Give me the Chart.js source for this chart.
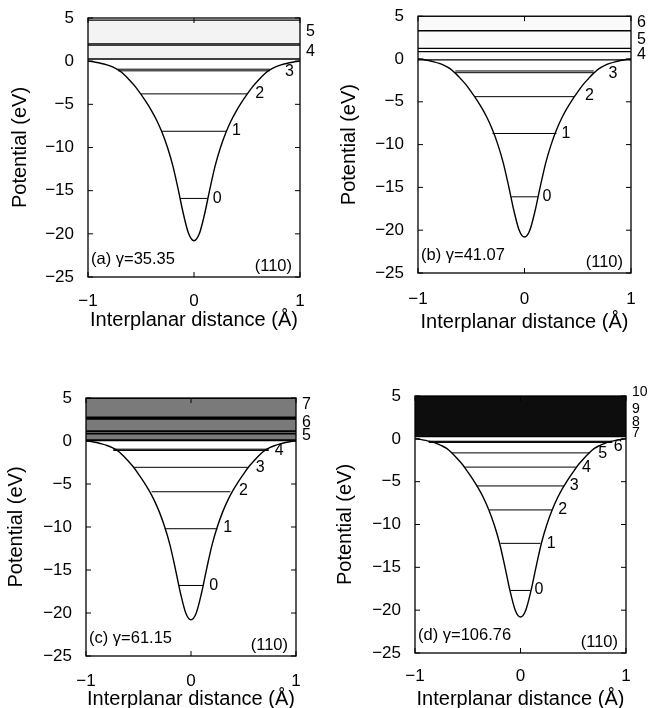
<!DOCTYPE html>
<html>
<head>
<meta charset="utf-8">
<script src="https://cdn.jsdelivr.net/npm/chart.js@4.4.1/dist/chart.umd.min.js"></script>
<style>
body { margin: 0; background: #fff; }
#wrap { position: relative; width: 658px; height: 708px; }
canvas { position: absolute; }
</style>
</head>
<body>
<div id="wrap">
  <canvas id="cA" width="329" height="354" style="left:0;top:0"></canvas>
  <canvas id="cB" width="329" height="354" style="left:329px;top:0"></canvas>
  <canvas id="cC" width="329" height="354" style="left:0;top:354px"></canvas>
  <canvas id="cD" width="329" height="354" style="left:329px;top:354px"></canvas>
</div>
<script>
// planar potential (same in all four panels)
const curveX = [-1, -0.95, -0.9, -0.85, -0.8, -0.75, -0.7, -0.65, -0.6, -0.55, -0.5,
  -0.45, -0.4, -0.35, -0.3, -0.25, -0.2, -0.15, -0.1, -0.05, 0,
  0.05, 0.1, 0.15, 0.2, 0.25, 0.3, 0.35, 0.4, 0.45, 0.5,
  0.55, 0.6, 0.65, 0.7, 0.75, 0.8, 0.85, 0.9, 0.95, 1];
const curveY = [0, -0.06, -0.18, -0.33, -0.52, -0.78, -1.12, -1.65, -2.3, -3.0, -3.85,
  -4.75, -5.75, -6.9, -8.3, -10.0, -12.1, -14.8, -17.7, -20.0, -20.8,
  -20.0, -17.7, -14.8, -12.1, -10.0, -8.3, -6.9, -5.75, -4.75, -3.85,
  -3.0, -2.3, -1.65, -1.12, -0.78, -0.52, -0.33, -0.18, -0.06, 0];

const xTicks = [-1, 0, 1];
const yTicks = [-25, -20, -15, -10, -5, 0, 5];

// (a) gamma = 35.35 : level / band edges (eV) and half widths (Å)
const levelLoA = [-15.9, -8.12, -3.79, -1.12, 0.25, 2.0];
const levelHiA = [-15.9, -8.12, -3.79, -0.93, 1.85, 4.75];
const halfWidthA = [0.13, 0.305, 0.5, 0.715, 1, 1];
const labelTextA = ['0', '1', '2', '3', '4', '5'];
const labelXA = [0.22, 0.40, 0.62, 0.9, null, null];
const labelYA = [-15.9, -8.05, -3.7, -1.2, 1.1, 3.4];

// (b) gamma = 41.07
const levelLoB = [-16.1, -8.7, -4.4, -1.6, -0.1, 1.25, 3.3];
const levelHiB = [-16.1, -8.7, -4.4, -1.4, 0.85, 3.3, 5];
const halfWidthB = [0.125, 0.3, 0.465, 0.65, 1, 1, 1];
const labelTextB = ['0', '1', '2', '3', '4', '5', '6'];
const labelXB = [0.21, 0.39, 0.61, 0.83, null, null, null];
const labelYB = [-16.1, -8.7, -4.3, -1.7, 0.5, 2.25, 4.3];

// (c) gamma = 61.15
const levelLoC = [-16.8, -10.2, -5.9, -3.06, -1.1, 0.1, 1.12, 2.72];
const levelHiC = [-16.8, -10.2, -5.9, -3.06, -0.95, 0.88, 2.6, 5];
const halfWidthC = [0.115, 0.25, 0.375, 0.54, 0.74, 1, 1, 1];
const labelTextC = ['0', '1', '2', '3', '4', '5', '6', '7'];
const labelXC = [0.217, 0.35, 0.5, 0.66, 0.84, null, null, null];
const labelYC = [-16.8, -10.1, -5.8, -3.1, -1.1, 0.6, 2.1, 4.2];

// (d) gamma = 106.76
const levelLoD = [-17.7, -12.2, -8.3, -5.5, -3.3, -1.64, -0.42, 0.25];
const levelHiD = [-17.7, -12.2, -8.3, -5.5, -3.3, -1.64, -0.28, 5];
const halfWidthD = [0.095, 0.19, 0.3, 0.415, 0.525, 0.655, 0.87, 1];
const labelTextD = ['0', '1', '2', '3', '4', '5', '6', '7', '8', '9', '10'];
const labelXD = [0.175, 0.29, 0.4, 0.51, 0.625, 0.78, 0.925, null, null, null, null];
const labelYD = [-17.6, -12.2, -8.3, -5.5, -3.4, -1.7, -0.85, 0.65, 2.0, 3.5, 5.5];

const FONT = '"Liberation Sans", Arial, Helvetica, sans-serif';
Chart.defaults.font.family = FONT;
Chart.defaults.color = '#000';

function fmt(v) {
    return v < 0 ? '\u2212' + Math.abs(v) : String(v);
}

function makePanel(canvasId, p) {
    const datasets = [];
    datasets.push({
        data: curveX.map((x, i) => ({ x: x, y: curveY[i] })),
        borderColor: '#000',
        borderWidth: 1.4,
        cubicInterpolationMode: 'monotone',
        fill: false
    });
    p.lo.forEach((lo, i) => {
        const hi = p.hi[i];
        const w = p.half[i];
        const lw = w >= 1 ? p.edgeWidth : 1;
        datasets.push({
            data: [{ x: -w, y: lo }, { x: w, y: lo }],
            borderColor: '#000', borderWidth: lw, fill: false
        });
        if (hi !== lo) {
            datasets.push({
                data: [{ x: -w, y: hi }, { x: w, y: hi }],
                borderColor: '#000', borderWidth: lw,
                fill: '-1', backgroundColor: p.fillColor
            });
        }
    });

    const decor = {
        id: 'decor',
        afterDraw(chart) {
            const ctx = chart.ctx;
            const a = chart.chartArea;
            const xs = chart.scales.x, ys = chart.scales.y;
            ctx.save();
            ctx.strokeStyle = '#000';
            ctx.lineWidth = 1.3;
            ctx.strokeRect(a.left, a.top, a.right - a.left, a.bottom - a.top);
            ctx.lineWidth = 1;
            ctx.beginPath();
            yTicks.forEach(v => {
                const py = ys.getPixelForValue(v);
                ctx.moveTo(a.left, py); ctx.lineTo(a.left + 5, py);
                ctx.moveTo(a.right, py); ctx.lineTo(a.right - 5, py);
            });
            xTicks.forEach(v => {
                const px = xs.getPixelForValue(v);
                ctx.moveTo(px, a.bottom); ctx.lineTo(px, a.bottom - 5);
                ctx.moveTo(px, a.top); ctx.lineTo(px, a.top + 5);
            });
            ctx.stroke();

            ctx.fillStyle = '#000';
            ctx.textBaseline = 'middle';
            p.labels.forEach((t, i) => {
                const py = ys.getPixelForValue(p.labelY[i]);
                if (p.labelX[i] === null) {
                    ctx.font = p.outSize + 'px ' + FONT;
                    ctx.textAlign = 'left';
                    ctx.fillText(t, a.right + 6, py);
                } else {
                    ctx.font = '16px ' + FONT;
                    ctx.textAlign = 'center';
                    ctx.fillText(t, xs.getPixelForValue(p.labelX[i]), py);
                }
            });
            ctx.font = '16.5px ' + FONT;
            ctx.textAlign = 'left';
            ctx.fillText(p.tag, a.left + 3, a.bottom - 18);
            ctx.textAlign = 'right';
            ctx.fillText('(110)', a.right - 8, a.bottom - 11);
            ctx.restore();
        }
    };

    new Chart(document.getElementById(canvasId), {
        type: 'scatter',
        data: { datasets: datasets },
        options: {
            responsive: false,
            animation: false,
            showLine: true,
            elements: { point: { radius: 0 }, line: { tension: 0 } },
            layout: {
                padding: { left: 0, right: 329 - p.right, top: p.top, bottom: 354 - p.bottom - p.xh }
            },
            plugins: { legend: { display: false }, tooltip: { enabled: false } },
            scales: {
                x: {
                    type: 'linear', min: -1, max: 1,
                    afterBuildTicks: s => { s.ticks = xTicks.map(v => ({ value: v })); },
                    ticks: { callback: fmt, font: { size: 17 }, color: '#000', padding: p.xtPad, maxRotation: 0 },
                    grid: { display: false },
                    border: { display: false },
                    title: {
                        display: true, text: 'Interplanar distance (Å)', color: '#000',
                        font: { size: 20, lineHeight: 1 }, padding: { top: 0, bottom: p.xTitlePad }
                    },
                    afterFit: s => { s.height = p.xh; }
                },
                y: {
                    type: 'linear', min: -25, max: 5,
                    afterBuildTicks: s => { s.ticks = yTicks.map(v => ({ value: v })); },
                    ticks: { callback: fmt, font: { size: 17 }, color: '#000', padding: 6 },
                    grid: { display: false },
                    border: { display: false },
                    title: {
                        display: true, text: 'Potential (eV)', color: '#000',
                        font: { size: 20, lineHeight: 1 }, padding: { top: p.yTitlePad, bottom: 0 }
                    },
                    afterFit: s => { s.width = p.left; }
                }
            }
        },
        plugins: [decor]
    });
}

makePanel('cA', {
    lo: levelLoA, hi: levelHiA, half: halfWidthA,
    labels: labelTextA, labelX: labelXA, labelY: labelYA, outSize: 16,
    tag: '(a) \u03b3=35.35', fillColor: '#f3f3f3', edgeWidth: 1.3,
    left: 88, right: 300, top: 18, bottom: 277, xh: 53, xtPad: 6, xTitlePad: 0, yTitlePad: 10
});
makePanel('cB', {
    lo: levelLoB, hi: levelHiB, half: halfWidthB,
    labels: labelTextB, labelX: labelXB, labelY: labelYB, outSize: 16,
    tag: '(b) \u03b3=41.07', fillColor: '#fafafa', edgeWidth: 1.3,
    left: 89, right: 302, top: 15, bottom: 273, xh: 59, xtPad: 8, xTitlePad: 0, yTitlePad: 10
});
makePanel('cC', {
    lo: levelLoC, hi: levelHiC, half: halfWidthC,
    labels: labelTextC, labelX: labelXC, labelY: labelYC, outSize: 16,
    tag: '(c) \u03b3=61.15', fillColor: '#7a7a7a', edgeWidth: 2,
    left: 86, right: 296, top: 44, bottom: 302, xh: 52, xtPad: 7, xTitlePad: -1, yTitlePad: 6
});
makePanel('cD', {
    lo: levelLoD, hi: levelHiD, half: halfWidthD,
    labels: labelTextD, labelX: labelXD, labelY: labelYD, outSize: 14,
    tag: '(d) \u03b3=106.76', fillColor: '#0d0d0d', edgeWidth: 1.3,
    left: 86, right: 297, top: 42, bottom: 299, xh: 55, xtPad: 5, xTitlePad: -1, yTitlePad: 6
});
</script>
</body>
</html>
